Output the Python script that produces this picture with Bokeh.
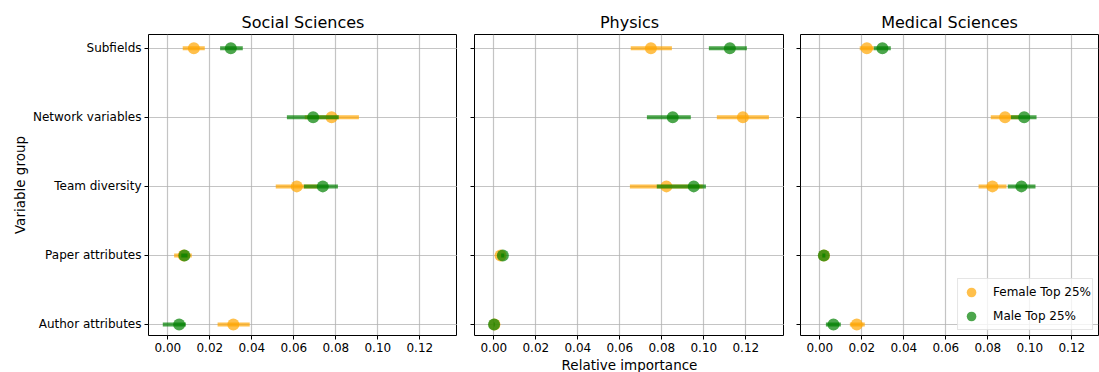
from bokeh.plotting import figure
from bokeh.layouts import row
from bokeh.models import Range1d, FixedTicker, PrintfTickFormatter, ColumnDataSource, Legend, LegendItem
from bokeh.embed import file_html
from bokeh.resources import INLINE

# ---------------- data ----------------
groups = ["Subfields", "Network variables", "Team diversity", "Paper attributes", "Author attributes"]
fields = ["Social Sciences", "Physics", "Medical Sciences"]
x_ticks = [0.0, 0.02, 0.04, 0.06, 0.08, 0.10, 0.12]
series_labels = ["Female Top 25%", "Male Top 25%"]

# Social Sciences
ss_female = [0.0124, 0.0780, 0.0614, 0.0076, 0.0312]
ss_female_lo = [0.0071, 0.0652, 0.0514, 0.0030, 0.0237]
ss_female_hi = [0.0176, 0.0910, 0.0714, 0.0114, 0.0390]
ss_male = [0.0300, 0.0692, 0.0738, 0.0079, 0.0054]
ss_male_lo = [0.0249, 0.0567, 0.0648, 0.0064, -0.0024]
ss_male_hi = [0.0357, 0.0814, 0.0810, 0.0094, 0.0086]

# Physics
ph_female = [0.0748, 0.1186, 0.0822, 0.0032, 0.0003]
ph_female_lo = [0.0652, 0.1062, 0.0648, 0.0018, 0.0000]
ph_female_hi = [0.0848, 0.1310, 0.0995, 0.0045, 0.0006]
ph_male = [0.1124, 0.0852, 0.0952, 0.0043, 0.0001]
ph_male_lo = [0.1024, 0.0729, 0.0776, 0.0035, 0.0000]
ph_male_hi = [0.1205, 0.0938, 0.1010, 0.0050, 0.0003]

# Medical Sciences
md_female = [0.0224, 0.0882, 0.0822, 0.0020, 0.0176]
md_female_lo = [0.0190, 0.0814, 0.0756, 0.0010, 0.0143]
md_female_hi = [0.0257, 0.0948, 0.0889, 0.0030, 0.0214]
md_male = [0.0298, 0.0973, 0.0960, 0.0019, 0.0065]
md_male_lo = [0.0257, 0.0910, 0.0895, 0.0012, 0.0029]
md_male_hi = [0.0338, 0.1032, 0.1027, 0.0026, 0.0100]

FONT = "DejaVu Sans"
FEMALE_COLOR = "orange"
MALE_COLOR = "green"
X0 = -0.0092
PX_PER_UNIT = 2100.0

ypos = [len(groups) - 1 - i for i in range(len(groups))]


def make_panel(title, female, f_lo, f_hi, male, m_lo, m_hi, frame_width,
               border_left, border_right, first=False, xlabel=None, legend=False):
    p = figure(frame_width=frame_width, frame_height=301,
               x_range=Range1d(X0, X0 + frame_width / PX_PER_UNIT), y_range=Range1d(-0.16, 4.2),
               output_backend="svg", toolbar_location=None,
               min_border_left=border_left, min_border_right=border_right,
               min_border_top=34, min_border_bottom=37,
               background_fill_color="white", border_fill_color="white")
    p.title.text = title
    p.title.align = "center"
    p.title.text_font = FONT
    p.title.text_font_size = "16px"
    p.title.text_font_style = "normal"
    p.title.text_color = "black"
    p.title.standoff = 6
    p.outline_line_color = "black"
    p.outline_line_width = 1

    for g in (p.xgrid, p.ygrid):
        g.grid_line_color = "#b0b0b0"
        g.grid_line_alpha = 0.75
        g.grid_line_width = 1.2
    p.ygrid.ticker = FixedTicker(ticks=ypos)
    p.xgrid.ticker = FixedTicker(ticks=x_ticks)

    xa = p.xaxis[0]
    xa.ticker = FixedTicker(ticks=x_ticks)
    xa.formatter = PrintfTickFormatter(format="%.2f")
    xa.axis_line_color = None
    xa.major_tick_out = 4
    xa.major_tick_in = 0
    xa.major_tick_line_color = "black"
    xa.minor_tick_line_color = None
    xa.major_label_standoff = 3
    xa.major_label_text_font = FONT
    xa.major_label_text_font_size = "12px"
    xa.major_label_text_color = "black"
    if xlabel:
        xa.axis_label = xlabel
        xa.axis_label_text_font = FONT
        xa.axis_label_text_font_size = "13.5px"
        xa.axis_label_text_font_style = "normal"
        xa.axis_label_text_color = "black"
        xa.axis_label_standoff = 2

    ya = p.yaxis[0]
    ya.ticker = FixedTicker(ticks=ypos)
    ya.axis_line_color = None
    ya.major_tick_out = 4
    ya.major_tick_in = 0
    ya.major_tick_line_color = "black"
    ya.minor_tick_line_color = None
    ya.major_label_standoff = 3
    ya.major_label_text_font = FONT
    ya.major_label_text_color = "black"
    if first:
        ya.major_label_overrides = {ypos[i]: groups[i] for i in range(len(groups))}
        ya.major_label_text_font_size = "12px"
        ya.axis_label = "Variable group"
        ya.axis_label_text_font = FONT
        ya.axis_label_text_font_size = "13.5px"
        ya.axis_label_text_font_style = "normal"
        ya.axis_label_text_color = "black"
        ya.axis_label_standoff = 2
    else:
        ya.major_label_overrides = {ypos[i]: "" for i in range(len(groups))}
        ya.major_label_text_font_size = "0px"

    renderers = []
    for vals, lo, hi, color in ((female, f_lo, f_hi, FEMALE_COLOR), (male, m_lo, m_hi, MALE_COLOR)):
        src = ColumnDataSource(dict(x=vals, lo=lo, hi=hi, y=ypos))
        p.segment(x0="lo", x1="hi", y0="y", y1="y", source=src,
                  line_color=color, line_width=4, line_alpha=0.7)
        r = p.scatter(x="x", y="y", source=src, size=12, marker="circle",
                      fill_color=color, fill_alpha=0.7, line_color=None)
        renderers.append(r)

    if legend:
        lg = Legend(items=[LegendItem(label=series_labels[0], renderers=[renderers[0]]),
                           LegendItem(label=series_labels[1], renderers=[renderers[1]])],
                    location="bottom_right")
        lg.label_text_font = FONT
        lg.label_text_font_size = "12px"
        lg.label_text_color = "black"
        lg.glyph_width = 24
        lg.glyph_height = 24
        lg.spacing = -6
        lg.padding = 1
        lg.margin = 5
        lg.label_standoff = 10
        lg.border_line_color = "#cccccc"
        lg.background_fill_alpha = 0.8
        p.add_layout(lg)
    return p


p1 = make_panel(fields[0], ss_female, ss_female_lo, ss_female_hi, ss_male, ss_male_lo, ss_male_hi,
                309, 148, 0, first=True)
p2 = make_panel(fields[1], ph_female, ph_female_lo, ph_female_hi, ph_male, ph_male_lo, ph_male_hi,
                310, 17, 0, xlabel="Relative importance")
p3 = make_panel(fields[2], md_female, md_female_lo, md_female_hi, md_male, md_male_lo, md_male_hi,
                298, 16, 1, legend=True)

layout = row(p1, p2, p3)
open("out.html", "w").write(file_html(layout, INLINE))
